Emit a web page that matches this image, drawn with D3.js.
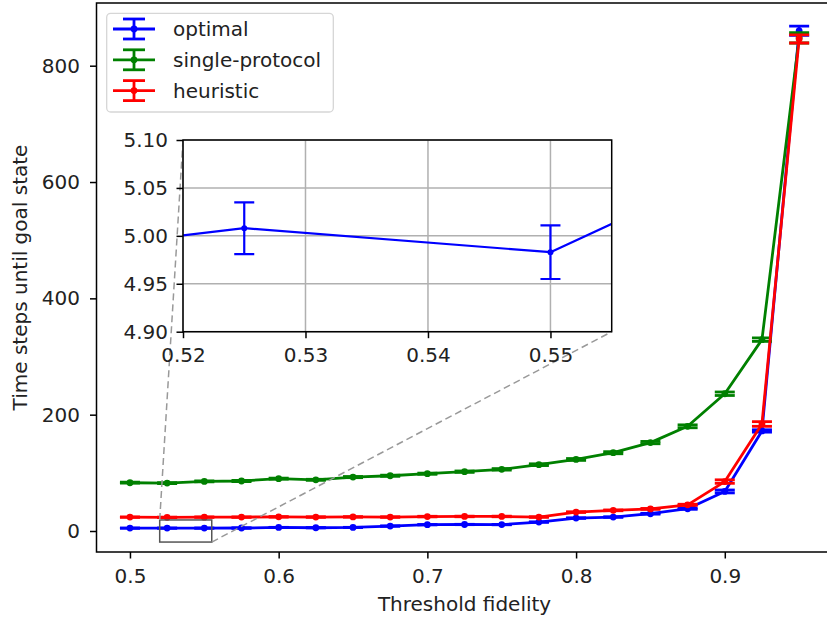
<!DOCTYPE html>
<html>
<head>
<meta charset="utf-8">
<script src="https://cdn.jsdelivr.net/npm/d3@7"></script>
<style>
    body { margin: 0; background: #fff; }
    svg text { font-family: "DejaVu Sans", sans-serif; fill: #222; }
</style>
</head>
<body>
<div id="chart"></div>
<script>
// threshold fidelity values
const thresholds = [0.5, 0.525, 0.55, 0.575, 0.6, 0.625, 0.65, 0.675, 0.7, 0.725,
    0.75, 0.775, 0.8, 0.825, 0.85, 0.875, 0.9, 0.925, 0.95];

const optimalMean = [4.97, 5.008, 4.983, 5.13, 6.2, 5.6, 6.2, 8.5, 10.8, 11.2,
    11, 15.3, 22.2, 24, 29.7, 38.3, 68, 172, 860];
const optimalErr = [0.03, 0.027, 0.028, 0.03, 0.1, 0.1, 0.1, 0.2, 0.3, 0.3,
    0.3, 0.4, 0.5, 0.5, 0.7, 1, 2.5, 2, 8];

const singleMean = [83, 82.4, 85.3, 86, 90, 88, 92.7, 95, 98.5, 102,
    106, 114, 123, 134.6, 152, 180, 236, 329, 848];
const singleErr = [0.8, 0.8, 0.8, 0.9, 0.9, 0.9, 1, 1, 1, 1.2,
    1.3, 1.5, 1.6, 1.8, 2, 2.5, 3, 3, 9];

const heuristicMean = [24, 23.5, 23.8, 24, 24.3, 24, 24.2, 24, 24.8, 25,
    25, 24, 32.5, 35.5, 38, 45, 85, 184, 846];
const heuristicErr = [0.4, 0.4, 0.4, 0.4, 0.4, 0.4, 0.4, 0.4, 0.5, 0.5,
    0.5, 0.5, 0.6, 0.7, 0.8, 1, 3, 4, 7];

const seriesNames = ['optimal', 'single-protocol', 'heuristic'];
const seriesColors = ['#0000ff', '#008000', '#ff0000'];

const xTicks = [0.5, 0.6, 0.7, 0.8, 0.9];
const yTicks = [0, 200, 400, 600, 800];
const insetXTicks = [0.52, 0.53, 0.54, 0.55];
const insetYTicks = [4.90, 4.95, 5.00, 5.05, 5.10];

// zoomed region shown in the inset, and the box marking it on the main axes
const insetXDomain = [0.52, 0.555];
const insetYDomain = [4.9, 5.1];
const markBoxY = [-19, 19];

class FidelityChart {
    constructor(_config, _data) {
        this.config = {
            parentElement: _config.parentElement,
            containerWidth: 827,
            containerHeight: 618,
            plot: {left: 96.5, right: 832.6, top: 3, bottom: 552},
            inset: {left: 183, right: 611.7, top: 140, bottom: 331.7},
            fontSize: 20,
            capHalf: 10
        }
        this.data = _data;
        this.initVis();
    }

    initVis() {
        let vis = this;
        const p = vis.config.plot;
        const ins = vis.config.inset;

        vis.xScale = d3.scaleLinear().domain([0.4775, 0.9725]).range([p.left, p.right]);
        vis.yScale = d3.scaleLinear().domain([-36.1, 907.8]).range([p.bottom, p.top]);

        vis.insetX = d3.scaleLinear().domain(insetXDomain).range([ins.left, ins.right]);
        vis.insetY = d3.scaleLinear().domain(insetYDomain).range([ins.bottom, ins.top]);

        vis.svg = d3.select(vis.config.parentElement).append('svg')
            .attr('width', vis.config.containerWidth)
            .attr('height', vis.config.containerHeight);

        const defs = vis.svg.append('defs');
        defs.append('clipPath').attr('id', 'main-clip')
            .append('rect')
            .attr('x', p.left).attr('y', p.top)
            .attr('width', p.right - p.left).attr('height', p.bottom - p.top);
        defs.append('clipPath').attr('id', 'inset-clip')
            .append('rect')
            .attr('x', ins.left).attr('y', ins.top)
            .attr('width', ins.right - ins.left).attr('height', ins.bottom - ins.top);

        vis.main = vis.svg.append('g').attr('clip-path', 'url(#main-clip)');
        vis.axesG = vis.svg.append('g');
        vis.insetG = vis.svg.append('g');
        vis.legendG = vis.svg.append('g');

        vis.renderVis();
    }

    // one errorbar series: line, markers, bars and caps
    drawSeries(g, xs, ys, s, lineWidth, r) {
        let vis = this;
        const line = d3.line().x(d => xs(d.x)).y(d => ys(d.y));
        const pts = thresholds.map((x, i) => ({x: x, y: s.mean[i], e: s.err[i]}));

        g.append('path')
            .datum(pts)
            .attr('d', line)
            .attr('fill', 'none')
            .attr('stroke', s.color)
            .attr('stroke-width', lineWidth)
            .attr('stroke-linejoin', 'round');

        g.selectAll(null).data(pts).join('circle')
            .attr('cx', d => xs(d.x))
            .attr('cy', d => ys(d.y))
            .attr('r', r)
            .attr('fill', s.color);

        g.selectAll(null).data(pts).join('line')
            .attr('x1', d => xs(d.x)).attr('x2', d => xs(d.x))
            .attr('y1', d => ys(d.y - d.e)).attr('y2', d => ys(d.y + d.e))
            .attr('stroke', s.color)
            .attr('stroke-width', lineWidth);

        [-1, 1].forEach(sign => {
            g.selectAll(null).data(pts).join('line')
                .attr('x1', d => xs(d.x) - vis.config.capHalf)
                .attr('x2', d => xs(d.x) + vis.config.capHalf)
                .attr('y1', d => ys(d.y + sign * d.e))
                .attr('y2', d => ys(d.y + sign * d.e))
                .attr('stroke', s.color)
                .attr('stroke-width', lineWidth);
        });
    }

    styleAxis(g) {
        let vis = this;
        g.select('.domain').remove();
        g.selectAll('.tick line').attr('stroke', '#000').attr('stroke-width', 1.5);
        g.selectAll('.tick text').attr('font-size', vis.config.fontSize).attr('fill', '#222')
            .style('font-family', '"DejaVu Sans", sans-serif');
    }

    renderVis() {
        let vis = this;
        const p = vis.config.plot;
        const ins = vis.config.inset;
        const fs = vis.config.fontSize;

        // main series
        vis.data.forEach(s => vis.drawSeries(vis.main.append('g'), vis.xScale, vis.yScale, s, 2.8, 3.4));

        // box marking the zoomed area
        const bx0 = vis.xScale(insetXDomain[0]), bx1 = vis.xScale(insetXDomain[1]);
        const by0 = vis.yScale(markBoxY[1]), by1 = vis.yScale(markBoxY[0]);
        vis.main.append('rect')
            .attr('x', bx0).attr('y', by0)
            .attr('width', bx1 - bx0).attr('height', by1 - by0)
            .attr('fill', 'none')
            .attr('stroke', '#555')
            .attr('stroke-width', 1.5);

        // connectors: upper-left to upper-left, lower-right to lower-right
        const connectors = [
            [bx0, by0, ins.left, ins.top],
            [bx1, by1, ins.right, ins.bottom]
        ];
        vis.main.selectAll('.connector').data(connectors).join('line')
            .attr('class', 'connector')
            .attr('x1', d => d[0]).attr('y1', d => d[1])
            .attr('x2', d => d[2]).attr('y2', d => d[3])
            .attr('stroke', '#999')
            .attr('stroke-width', 1.5)
            .attr('stroke-dasharray', '7,4');

        // main axes frame
        vis.axesG.append('rect')
            .attr('x', p.left).attr('y', p.top)
            .attr('width', p.right - p.left).attr('height', p.bottom - p.top)
            .attr('fill', 'none')
            .attr('stroke', '#000')
            .attr('stroke-width', 1.5);

        const xAxis = d3.axisBottom(vis.xScale).tickValues(xTicks).tickSize(6.5).tickPadding(10)
            .tickFormat(d3.format('.1f'));
        const yAxis = d3.axisLeft(vis.yScale).tickValues(yTicks).tickSize(6.5).tickPadding(10)
            .tickFormat(d3.format('d'));

        vis.styleAxis(vis.axesG.append('g').attr('transform', `translate(0,${p.bottom})`).call(xAxis));
        vis.styleAxis(vis.axesG.append('g').attr('transform', `translate(${p.left},0)`).call(yAxis));

        vis.axesG.append('text')
            .attr('x', (p.left + p.right) / 2)
            .attr('y', 611)
            .attr('text-anchor', 'middle')
            .attr('font-size', fs)
            .text('Threshold fidelity');

        vis.axesG.append('text')
            .attr('transform', `translate(27,${(p.top + p.bottom) / 2}) rotate(-90)`)
            .attr('text-anchor', 'middle')
            .attr('font-size', fs)
            .text('Time steps until goal state');

        // inset axes
        vis.insetG.append('rect')
            .attr('x', ins.left).attr('y', ins.top)
            .attr('width', ins.right - ins.left).attr('height', ins.bottom - ins.top)
            .attr('fill', '#fff');

        const grid = vis.insetG.append('g');
        grid.selectAll('.gx').data(insetXTicks).join('line')
            .attr('x1', d => vis.insetX(d)).attr('x2', d => vis.insetX(d))
            .attr('y1', ins.top).attr('y2', ins.bottom)
            .attr('stroke', '#b0b0b0').attr('stroke-width', 1.5);
        grid.selectAll('.gy').data(insetYTicks).join('line')
            .attr('x1', ins.left).attr('x2', ins.right)
            .attr('y1', d => vis.insetY(d)).attr('y2', d => vis.insetY(d))
            .attr('stroke', '#b0b0b0').attr('stroke-width', 1.5);

        const insetPlot = vis.insetG.append('g').attr('clip-path', 'url(#inset-clip)');
        vis.data.forEach(s => vis.drawSeries(insetPlot.append('g'), vis.insetX, vis.insetY, s, 2.2, 3));

        vis.insetG.append('rect')
            .attr('x', ins.left).attr('y', ins.top)
            .attr('width', ins.right - ins.left).attr('height', ins.bottom - ins.top)
            .attr('fill', 'none')
            .attr('stroke', '#000')
            .attr('stroke-width', 1.5);

        const ixAxis = d3.axisBottom(vis.insetX).tickValues(insetXTicks).tickSize(6.5).tickPadding(10)
            .tickFormat(d3.format('.2f'));
        const iyAxis = d3.axisLeft(vis.insetY).tickValues(insetYTicks).tickSize(6.5).tickPadding(8.5)
            .tickFormat(d3.format('.2f'));
        vis.styleAxis(vis.insetG.append('g').attr('transform', `translate(0,${ins.bottom})`).call(ixAxis));
        vis.styleAxis(vis.insetG.append('g').attr('transform', `translate(${ins.left},0)`).call(iyAxis));

        // legend
        vis.legendG.append('rect')
            .attr('x', 106.7).attr('y', 13.3)
            .attr('width', 226.6).attr('height', 98.7)
            .attr('rx', 4)
            .attr('fill', '#fff').attr('fill-opacity', 0.8)
            .attr('stroke', '#d6d6d6').attr('stroke-width', 1.3);

        const items = vis.legendG.selectAll('.legend-item').data(vis.data).join('g')
            .attr('class', 'legend-item')
            .attr('transform', (d, i) => `translate(134,${29 + i * 30.8})`);
        items.append('line')
            .attr('x1', -21).attr('x2', 21)
            .attr('stroke', d => d.color).attr('stroke-width', 2.8);
        items.append('line')
            .attr('y1', -10).attr('y2', 10)
            .attr('stroke', d => d.color).attr('stroke-width', 2.8);
        [-10, 10].forEach(cy => {
            items.append('line')
                .attr('x1', -vis.config.capHalf - 1).attr('x2', vis.config.capHalf + 1)
                .attr('y1', cy).attr('y2', cy)
                .attr('stroke', d => d.color).attr('stroke-width', 2.8);
        });
        items.append('circle').attr('r', 3.4).attr('fill', d => d.color);
        items.append('text')
            .attr('x', 39)
            .attr('dy', '0.35em')
            .attr('font-size', fs)
            .text(d => d.name);
    }
}

const chartData = [
    {name: seriesNames[0], color: seriesColors[0], mean: optimalMean, err: optimalErr},
    {name: seriesNames[1], color: seriesColors[1], mean: singleMean, err: singleErr},
    {name: seriesNames[2], color: seriesColors[2], mean: heuristicMean, err: heuristicErr}
];

const chart = new FidelityChart({parentElement: '#chart'}, chartData);
</script>
</body>
</html>
